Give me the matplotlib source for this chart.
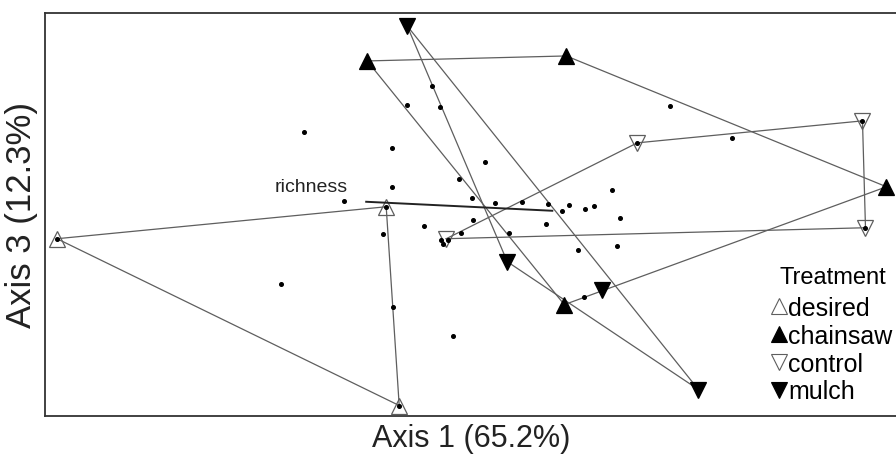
import numpy as np
import matplotlib
matplotlib.use('Agg')
import matplotlib.pyplot as plt
from matplotlib.lines import Line2D

plt.rcParams['font.family'] = ['Liberation Sans', 'DejaVu Sans']

# group scores (Axis 1, Axis 3)
desired_x = [-1.652, -0.336, -0.284]
desired_y = [-0.040, 0.088, -0.708]
chainsaw_x = [-0.412, 0.384, 1.664, 0.376]
chainsaw_y = [0.672, 0.692, 0.168, -0.304]
control_x = [-0.096, 0.668, 1.568, 1.580]
control_y = [-0.040, 0.344, 0.432, 0.004]
mulch_x = [-0.252, 0.148, 0.528, 0.912]
mulch_y = [0.812, -0.132, -0.244, -0.644]

# small points
dots_x = [-0.152, -0.252, -0.120, -0.664, -0.312, 0.800, 1.048, 0.060, -0.044,
          -0.312, -0.504, 0.008, 0.100, 0.208, 0.312, 0.368, 0.396, 0.460,
          0.496, 0.568, 0.600, 0.012, -0.184, 0.304, 0.156, -0.036, -0.348,
          0.432, 0.588, -0.116, -0.108, -0.088, -0.756, -0.308, -0.068, 0.456,
          -1.652, -0.336, -0.284, 0.668, 1.568, 1.580]
dots_y = [0.572, 0.496, 0.488, 0.388, 0.324, 0.492, 0.364, 0.268, 0.200,
          0.168, 0.112, 0.124, 0.104, 0.108, 0.100, 0.072, 0.096, 0.080,
          0.092, 0.156, 0.044, 0.036, 0.012, 0.020, -0.016, -0.016, -0.020,
          -0.084, -0.068, -0.044, -0.060, -0.044, -0.220, -0.312, -0.428, -0.272,
          -0.040, 0.088, -0.708, 0.344, 0.432, 0.004]

# richness vector
vec_x = [-0.416, 0.328]
vec_y = [0.108, 0.072]


def hull(xs, ys):
    # monotone chain convex hull, returns closed loop
    pts = sorted(zip(xs, ys))
    def cross(o, a, b):
        return (a[0]-o[0])*(b[1]-o[1]) - (a[1]-o[1])*(b[0]-o[0])
    lower, upper = [], []
    for p in pts:
        while len(lower) >= 2 and cross(lower[-2], lower[-1], p) <= 0:
            lower.pop()
        lower.append(p)
    for p in reversed(pts):
        while len(upper) >= 2 and cross(upper[-2], upper[-1], p) <= 0:
            upper.pop()
        upper.append(p)
    h = lower[:-1] + upper[:-1]
    h.append(h[0])
    return [p[0] for p in h], [p[1] for p in h]


fig = plt.figure(figsize=(8.96, 4.6), dpi=100)
ax = fig.add_axes([45/896, 43/460, 853/896, 403.5/460])

line_c = '#5e5e5e'
groups = [
    ('desired', desired_x, desired_y, '^', 'none', line_c),
    ('chainsaw', chainsaw_x, chainsaw_y, '^', 'black', 'black'),
    ('control', control_x, control_y, 'v', 'none', line_c),
    ('mulch', mulch_x, mulch_y, 'v', 'black', 'black'),
]

for name, gx, gy, mk, fc, ec in groups:
    hx, hy = hull(gx, gy)
    ax.plot(hx, hy, color=line_c, lw=0.9, zorder=2)

for name, gx, gy, mk, fc, ec in groups:
    ax.plot(gx, gy, linestyle='none', marker=mk, markersize=11.5,
            markerfacecolor=fc, markeredgecolor=ec, markeredgewidth=0.9, zorder=3)

ax.plot(dots_x, dots_y, linestyle='none', marker='o', markersize=2.6,
        color='black', zorder=4)

ax.plot(vec_x, vec_y, color='#222222', lw=1.4, zorder=5)
ax.text(-0.636, 0.168, 'richness', fontsize=14, ha='center', va='center',
        color='#222222')

ax.set_xlim(-1.70, 1.71)
ax.set_ylim(-0.75, 0.866)
ax.set_xticks([])
ax.set_yticks([])
for s in ax.spines.values():
    s.set_color('#333333')
    s.set_linewidth(1.3)

ax.set_xlabel('Axis 1 (65.2%)', fontsize=22, labelpad=5, color='#222222')
ax.set_ylabel('Axis 3 (12.3%)', fontsize=25, labelpad=5, color='#222222')

handles = []
for name, gx, gy, mk, fc, ec in groups:
    handles.append(Line2D([], [], linestyle='none', marker=mk, markersize=11,
                          markerfacecolor=fc, markeredgecolor=ec, markeredgewidth=0.8))
leg = ax.legend(handles, [g[0] for g in groups], title='Treatment',
                loc='upper left', bbox_to_anchor=(0.853, 0.372), frameon=False,
                fontsize=18, title_fontsize=17, handlelength=0.5,
                handletextpad=0.12, labelspacing=0.15, borderpad=0,
                borderaxespad=0)
leg._legend_box.sep = 6
leg.set_zorder(6)

fig.savefig('out.png', dpi=100)
